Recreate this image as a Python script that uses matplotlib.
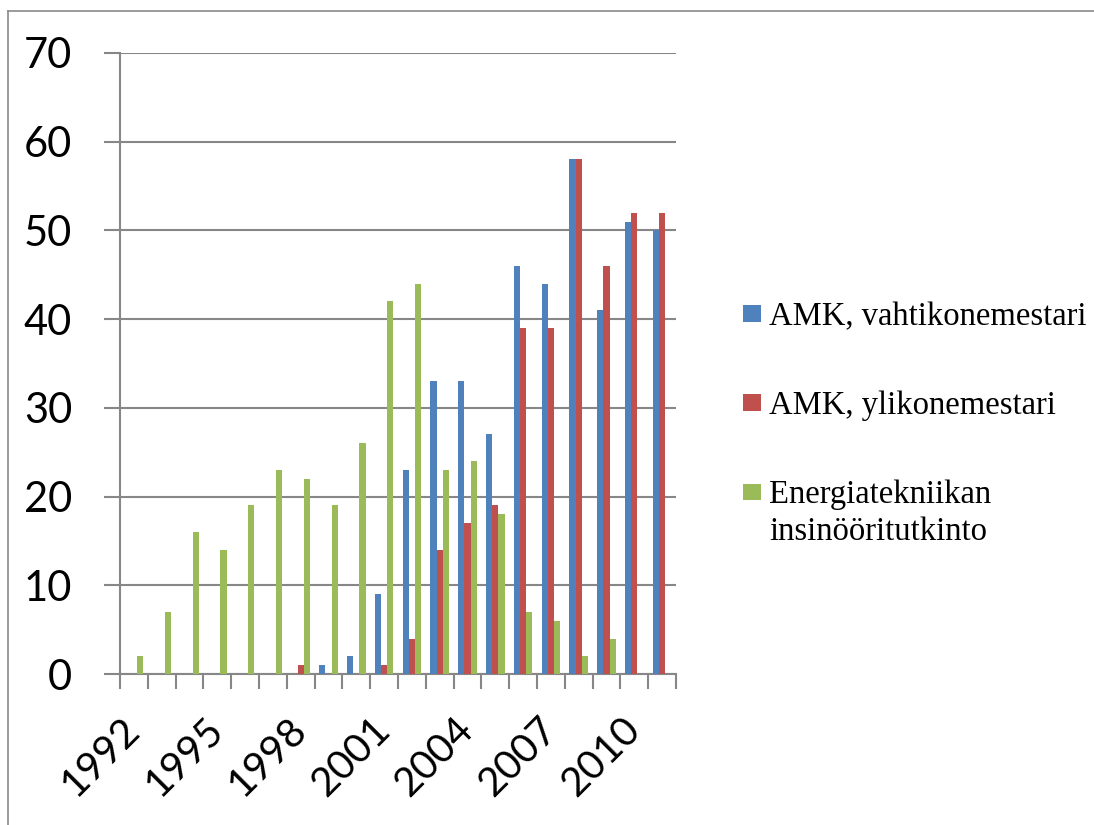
import matplotlib.pyplot as plt
import numpy as np
from matplotlib.lines import Line2D

# graduates per year by degree programme
years = list(range(1992, 2012))
vahtikonemestari = [0, 0, 0, 0, 0, 0, 0, 1, 2, 9, 23, 33, 33, 27, 46, 44, 58, 41, 51, 50]
ylikonemestari = [0, 0, 0, 0, 0, 0, 1, 0, 0, 1, 4, 14, 17, 19, 39, 39, 58, 46, 52, 52]
energiatekniikka = [2, 7, 16, 14, 19, 23, 22, 19, 26, 42, 44, 23, 24, 18, 7, 6, 2, 4, 0, 0]

series_names = ["AMK, vahtikonemestari", "AMK, ylikonemestari", "Energiatekniikan"]
name_line2 = "insinööritutkinto"
colors = ["#4F81BD", "#C0504D", "#9BBB59"]
grid_col = "#878787"

W, H = 1094, 825
fig = plt.figure(figsize=(W / 100, H / 100), dpi=100)

# axes box in pixels: left 120, right 676, top 53, bottom 674
ax = fig.add_axes([120 / W, (H - 674) / H, 556 / W, (674 - 53) / H])

x = np.arange(len(years))
w = 1 / 4.5
for i, vals in enumerate([vahtikonemestari, ylikonemestari, energiatekniikka]):
    ax.bar(x + (i - 1) * w, vals, width=w, color=colors[i], label=series_names[i],
           linewidth=0, zorder=3)

ax.set_xlim(-0.5, len(years) - 0.5)
ax.set_ylim(0, 70)
ax.set_yticks(range(0, 71, 10))
ax.yaxis.grid(True, color=grid_col, linewidth=1.5, zorder=0)
ax.set_axisbelow(True)

for s in ["top", "right"]:
    ax.spines[s].set_visible(False)
for s in ["left", "bottom"]:
    ax.spines[s].set_color(grid_col)
    ax.spines[s].set_linewidth(1.5)

ax.tick_params(axis="y", length=11.5, width=1.5, color=grid_col, pad=23,
               labelsize=30, labelfontfamily="Lato")

# category labels every third year, boundary ticks between years
ax.set_xticks(x[::3])
ax.set_xticklabels([str(y) for y in years[::3]], rotation=45,
                   rotation_mode="anchor", ha="right", va="center",
                   fontsize=29, family="Lato")
ax.set_xticks(np.arange(-0.5, len(years)), minor=True)
ax.tick_params(axis="x", which="major", length=0, pad=36)
ax.tick_params(axis="x", which="minor", length=11, width=1.5, color=grid_col)

leg_font = {"family": "Liberation Serif", "size": 23.5}
leg = fig.legend(loc="center left", bbox_to_anchor=(743 / W, (H - 406) / H),
                 frameon=False, borderpad=0, borderaxespad=0,
                 handlelength=0.55, handleheight=0.4, handletextpad=0.25,
                 labelspacing=1.8, prop=leg_font)

# second line of the last legend label, set under the first one
fig.canvas.draw()
bb = leg.get_texts()[2].get_window_extent()
fig.text(bb.x0 / W, (bb.y0 - 37) / H, name_line2, fontdict=leg_font,
         ha="left", va="bottom")

# chart border (only top and left edges are inside the frame)
fig.add_artist(Line2D([8 / W, 1], [(H - 10.7) / H] * 2, color="#8a8a8a",
                      linewidth=1.2, transform=fig.transFigure))
fig.add_artist(Line2D([8 / W] * 2, [0, (H - 10.7) / H], color="#8a8a8a",
                      linewidth=1.2, transform=fig.transFigure))

fig.savefig("out.png", dpi=100, facecolor="white")
